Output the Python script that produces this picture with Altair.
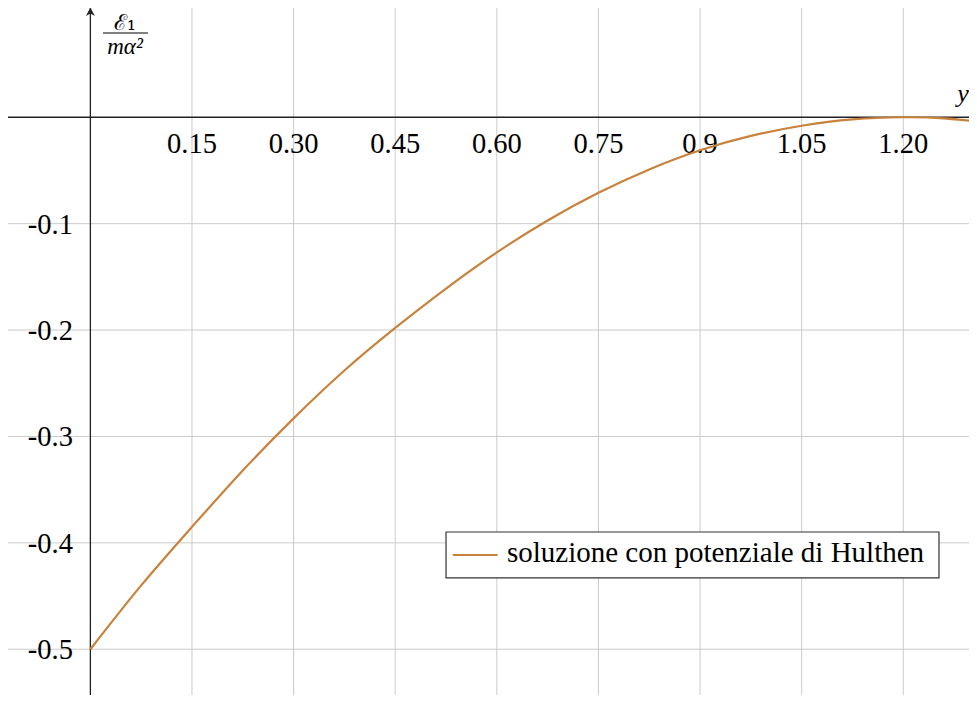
import altair as alt
import pandas as pd

# ---- data ----
x_vals = [0.0, 0.075, 0.15, 0.225, 0.30, 0.375, 0.45, 0.525, 0.60, 0.675,
          0.75, 0.825, 0.90, 0.975, 1.05, 1.125, 1.20, 1.26, 1.31]
y_vals = [-0.500, -0.440, -0.385, -0.332, -0.283, -0.238, -0.198, -0.161, -0.127, -0.097,
          -0.071, -0.049, -0.031, -0.0175, -0.008, -0.002, 0.000, -0.001, -0.004]
series_name = "soluzione con potenziale di Hulthen"

x_ticks = [0.15, 0.30, 0.45, 0.60, 0.75, 0.90, 1.05, 1.20]
x_tick_labels = ["0.15", "0.30", "0.45", "0.60", "0.75", "0.9", "1.05", "1.20"]
y_ticks = [-0.1, -0.2, -0.3, -0.4, -0.5]
y_tick_labels = ["-0.1", "-0.2", "-0.3", "-0.4", "-0.5"]

XDOM = [-0.1216, 1.2970]
YDOM = [-0.5430, 0.1027]

FONT = "Liberation Serif, Times New Roman, serif"
MATHFONT = "DejaVu Serif, Liberation Serif, serif"
LINE_COLOR = "#c8823c"
GRID_COLOR = "#cbcbcb"
AXIS_COLOR = "#222222"

xs = alt.Scale(domain=XDOM, nice=False, zero=False)
ys = alt.Scale(domain=YDOM, nice=False, zero=False)


def X(f="x"):
    return alt.X(f + ":Q", scale=xs, axis=None)


def Y(f="y"):
    return alt.Y(f + ":Q", scale=ys, axis=None)


curve_df = pd.DataFrame({"x": x_vals, "y": y_vals, "s": [series_name] * len(x_vals)})
xt_df = pd.DataFrame({"x": x_ticks, "label": x_tick_labels, "y": [0.0] * len(x_ticks)})
yt_df = pd.DataFrame({"y": y_ticks, "label": y_tick_labels, "x": [-0.0257] * len(y_ticks)})

vgrid = alt.Chart(xt_df).mark_rule(color=GRID_COLOR, strokeWidth=1).encode(x=X())
hgrid = alt.Chart(yt_df).mark_rule(color=GRID_COLOR, strokeWidth=1).encode(y=Y())

xlabels = alt.Chart(xt_df).mark_text(
    font=FONT, fontSize=28.5, align="center", baseline="alphabetic", dy=36, color="black"
).encode(x=X(), y=Y(), text="label:N")

ylabels = alt.Chart(yt_df).mark_text(
    font=FONT, fontSize=28.5, align="right", baseline="alphabetic", dy=10, color="black"
).encode(x=X(), y=Y(), text="label:N")

xaxis = alt.Chart(pd.DataFrame({"y": [0.0]})).mark_rule(color=AXIS_COLOR, strokeWidth=1.3).encode(y=Y())
yaxis = alt.Chart(pd.DataFrame({"x": [0.0]})).mark_rule(color=AXIS_COLOR, strokeWidth=1.3).encode(x=X())

arrow = alt.Chart(pd.DataFrame({"x": [0.0], "y": [0.0985]})).mark_point(
    shape="M0,-1L0.9,0.7L0,0.2L-0.9,0.7Z", filled=True, size=100, color=AXIS_COLOR, opacity=1
).encode(x=X(), y=Y())

curve = alt.Chart(curve_df).mark_line(
    color=LINE_COLOR, strokeWidth=2.2, interpolate="natural", clip=True
).encode(x=X(), y=Y(), detail="s:N")

# legend (drawn in data space)
leg_box = alt.Chart(pd.DataFrame({"x": [0.525], "x2": [1.2527], "y": [-0.3898], "y2": [-0.4330]})).mark_rect(
    fill="white", stroke="#333333", strokeWidth=1.2
).encode(x=X(), x2="x2:Q", y=Y(), y2="y2:Q")
leg_line = alt.Chart(pd.DataFrame({"x": [0.535], "x2": [0.6011], "y": [-0.4114]})).mark_rule(
    color=LINE_COLOR, strokeWidth=2.2
).encode(x=X(), x2="x2:Q", y=Y())
leg_text = alt.Chart(pd.DataFrame({"x": [0.6149], "y": [-0.4182], "t": [series_name]})).mark_text(
    font=FONT, fontSize=29, align="left", baseline="alphabetic", color="black"
).encode(x=X(), y=Y(), text="t:N")

# axis titles
num = alt.Chart(pd.DataFrame({"x": [0.0511], "y": [0.0820], "t": ["ℰ₁"]})).mark_text(
    font=MATHFONT, fontSize=22, align="center", baseline="alphabetic", color="black"
).encode(x=X(), y=Y(), text="t:N")
frac_bar = alt.Chart(pd.DataFrame({"x": [0.0186], "x2": [0.085], "y": [0.0792]})).mark_rule(
    color="black", strokeWidth=1
).encode(x=X(), x2="x2:Q", y=Y())
den = alt.Chart(pd.DataFrame({"x": [0.0511], "y": [0.0595], "t": ["mα²"]})).mark_text(
    font=FONT, fontSize=23, fontStyle="italic", align="center", baseline="alphabetic", color="black"
).encode(x=X(), y=Y(), text="t:N")
xtitle = alt.Chart(pd.DataFrame({"x": [1.2880], "y": [0.0147], "t": ["y"]})).mark_text(
    font=FONT, fontSize=26, fontStyle="italic", align="center", baseline="alphabetic", color="black"
).encode(x=X(), y=Y(), text="t:N")

chart = alt.layer(
    vgrid, hgrid, xlabels, ylabels, xaxis, yaxis, curve,
    leg_box, leg_line, leg_text, arrow, num, frac_bar, den, xtitle
).properties(
    width=961, height=687, padding=0, autosize=alt.AutoSizeParams(type="none"),
    background="white"
).configure_view(stroke=None)

chart.save("out.html", embed_options={"renderer": "svg", "actions": False})
